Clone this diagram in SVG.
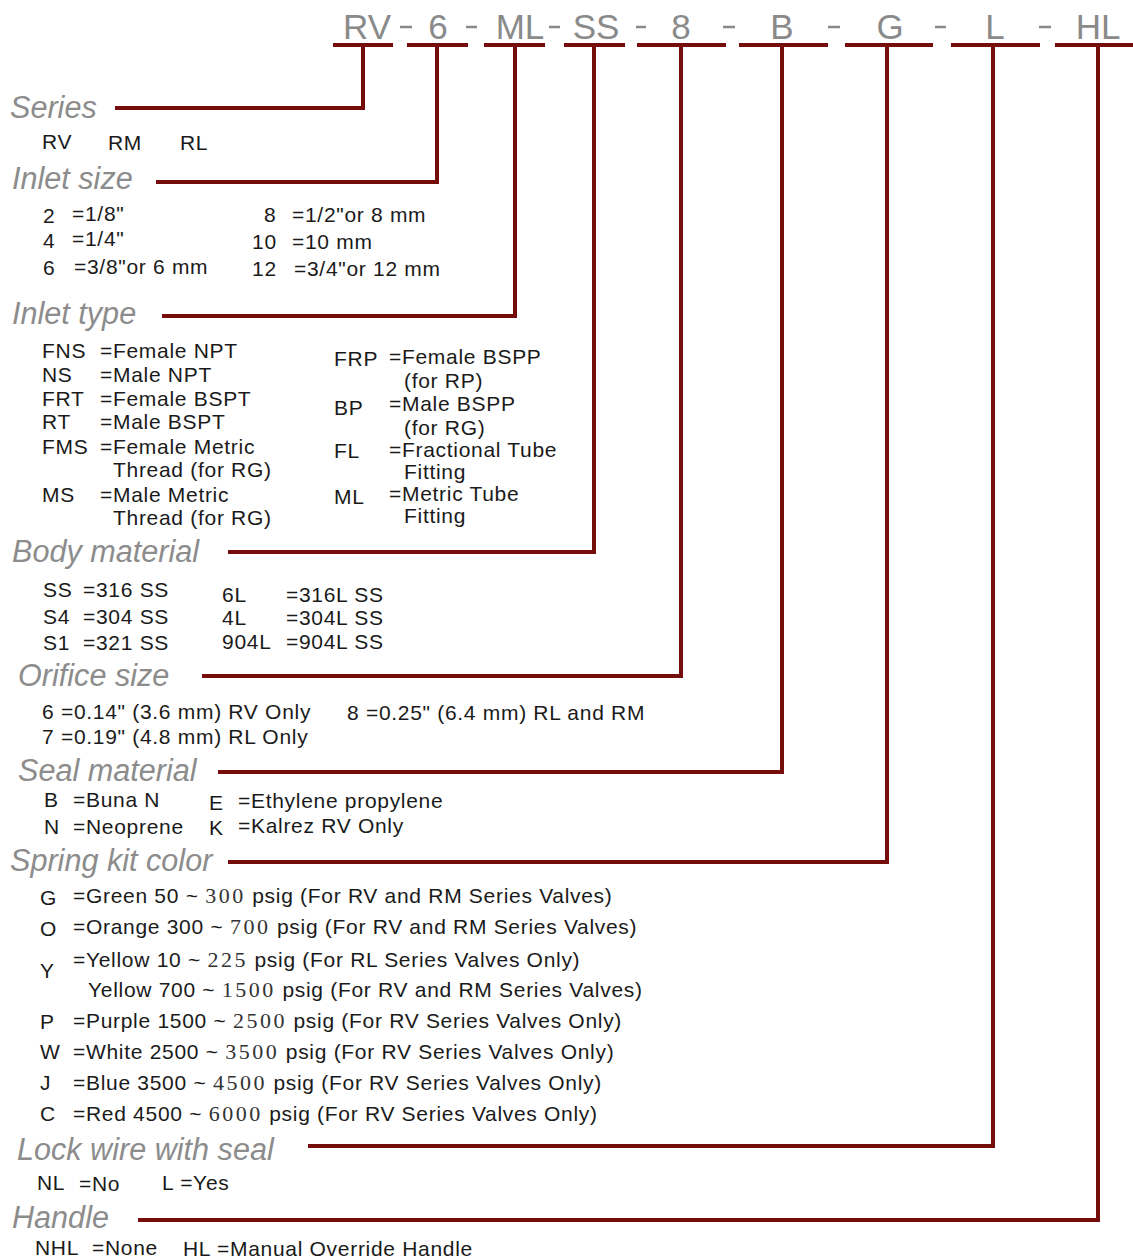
<svg xmlns="http://www.w3.org/2000/svg" width="1133" height="1258" viewBox="0 0 1133 1258">
<style>
.hd{font-family:"Liberation Sans",Arial,sans-serif;font-size:35px;fill:#8a8a8a;text-anchor:middle}
.dash{stroke:#8a8a8a;stroke-width:2.5}
.lbl{font-family:"Liberation Sans",Arial,sans-serif;font-size:30.6px;font-style:italic;fill:#8c8c8c}
.t{font-family:"Liberation Sans",Arial,sans-serif;font-size:21px;letter-spacing:0.7px;fill:#1a1a1a}
.s{font-family:"Liberation Serif","Times New Roman",serif;font-size:22px;letter-spacing:2.5px;fill:#333}
.ln{stroke:#760d0d;stroke-width:4;fill:none}
</style>
<rect width="1133" height="1258" fill="#ffffff"/>

<g id="header">
<text class="hd" x="367" y="39">RV</text>
<text class="hd" x="438" y="39">6</text>
<text class="hd" x="520" y="39">ML</text>
<text class="hd" x="596" y="39">SS</text>
<text class="hd" x="681" y="39">8</text>
<text class="hd" x="782" y="39">B</text>
<text class="hd" x="890" y="39">G</text>
<text class="hd" x="995" y="39">L</text>
<text class="hd" x="1098" y="39">HL</text>
<line class="dash" x1="400" y1="27" x2="412" y2="27"/>
<line class="dash" x1="466" y1="27" x2="477" y2="27"/>
<line class="dash" x1="549" y1="27" x2="560" y2="27"/>
<line class="dash" x1="636" y1="27" x2="646" y2="27"/>
<line class="dash" x1="723" y1="27" x2="735" y2="27"/>
<line class="dash" x1="828" y1="27" x2="840" y2="27"/>
<line class="dash" x1="935" y1="27" x2="946" y2="27"/>
<line class="dash" x1="1039" y1="27" x2="1051" y2="27"/>
</g>

<g id="connectors">
<line class="ln" x1="333" y1="45" x2="393" y2="45"/>
<line class="ln" x1="407" y1="45" x2="468" y2="45"/>
<line class="ln" x1="484" y1="45" x2="545" y2="45"/>
<line class="ln" x1="564" y1="45" x2="625" y2="45"/>
<line class="ln" x1="637" y1="45" x2="726" y2="45"/>
<line class="ln" x1="739" y1="45" x2="828" y2="45"/>
<line class="ln" x1="845" y1="45" x2="933" y2="45"/>
<line class="ln" x1="951" y1="45" x2="1040" y2="45"/>
<line class="ln" x1="1055" y1="45" x2="1133" y2="45"/>
<polyline class="ln" points="363,45 363,108 115,108"/>
<polyline class="ln" points="437,45 437,182 156,182"/>
<polyline class="ln" points="515,45 515,316 162,316"/>
<polyline class="ln" points="594,45 594,552 228,552"/>
<polyline class="ln" points="681,45 681,676 202,676"/>
<polyline class="ln" points="782,45 782,772 218,772"/>
<polyline class="ln" points="887,45 887,862 228,862"/>
<polyline class="ln" points="993,45 993,1146 308,1146"/>
<polyline class="ln" points="1098,45 1098,1220 138,1220"/>
</g>

<g id="series">
<text class="lbl" x="10" y="118">Series</text>
<text class="t" x="42" y="149">RV</text>
<text class="t" x="108" y="150">RM</text>
<text class="t" x="180" y="150">RL</text>
</g>

<g id="inlet-size">
<text class="lbl" x="12" y="189">Inlet size</text>
<text class="t" x="43" y="223">2</text><text class="t" x="72" y="221">=1/8"</text>
<text class="t" x="43" y="248">4</text><text class="t" x="72" y="246">=1/4"</text>
<text class="t" x="43" y="275">6</text><text class="t" x="74" y="274">=3/8"or 6 mm</text>
<text class="t" x="264" y="222">8</text><text class="t" x="292" y="222">=1/2"or 8 mm</text>
<text class="t" x="252" y="249">10</text><text class="t" x="292" y="249">=10 mm</text>
<text class="t" x="252" y="276">12</text><text class="t" x="294" y="276">=3/4"or 12 mm</text>
</g>

<g id="inlet-type">
<text class="lbl" x="12" y="324">Inlet type</text>
<text class="t" x="42" y="358">FNS</text><text class="t" x="100" y="358">=Female NPT</text>
<text class="t" x="42" y="382">NS</text><text class="t" x="100" y="382">=Male NPT</text>
<text class="t" x="42" y="406">FRT</text><text class="t" x="100" y="406">=Female BSPT</text>
<text class="t" x="42" y="429">RT</text><text class="t" x="100" y="429">=Male BSPT</text>
<text class="t" x="42" y="454">FMS</text><text class="t" x="100" y="454">=Female Metric</text>
<text class="t" x="113" y="477">Thread (for RG)</text>
<text class="t" x="42" y="502">MS</text><text class="t" x="100" y="502">=Male Metric</text>
<text class="t" x="113" y="525">Thread (for RG)</text>
<text class="t" x="334" y="366">FRP</text><text class="t" x="389" y="364">=Female BSPP</text>
<text class="t" x="404" y="388">(for RP)</text>
<text class="t" x="334" y="415">BP</text><text class="t" x="389" y="411">=Male BSPP</text>
<text class="t" x="404" y="435">(for RG)</text>
<text class="t" x="334" y="458">FL</text><text class="t" x="389" y="457">=Fractional Tube</text>
<text class="t" x="404" y="479">Fitting</text>
<text class="t" x="334" y="504">ML</text><text class="t" x="389" y="501">=Metric Tube</text>
<text class="t" x="404" y="523">Fitting</text>
</g>

<g id="body-material">
<text class="lbl" x="12" y="562">Body material</text>
<text class="t" x="43" y="597">SS</text><text class="t" x="83" y="597">=316 SS</text>
<text class="t" x="43" y="624">S4</text><text class="t" x="83" y="624">=304 SS</text>
<text class="t" x="43" y="650">S1</text><text class="t" x="83" y="650">=321 SS</text>
<text class="t" x="222" y="602">6L</text><text class="t" x="286" y="602">=316L SS</text>
<text class="t" x="222" y="625">4L</text><text class="t" x="286" y="625">=304L SS</text>
<text class="t" x="222" y="649">904L</text><text class="t" x="286" y="649">=904L SS</text>
</g>

<g id="orifice-size">
<text class="lbl" x="18" y="686">Orifice size</text>
<text class="t" x="42" y="719">6 =0.14" (3.6 mm) RV Only</text>
<text class="t" x="347" y="720">8 =0.25" (6.4 mm) RL and RM</text>
<text class="t" x="42" y="744">7 =0.19" (4.8 mm) RL Only</text>
</g>

<g id="seal-material">
<text class="lbl" x="18" y="781">Seal material</text>
<text class="t" x="44" y="807">B</text><text class="t" x="73" y="807">=Buna N</text>
<text class="t" x="209" y="810">E</text><text class="t" x="238" y="808">=Ethylene propylene</text>
<text class="t" x="44" y="834">N</text><text class="t" x="73" y="834">=Neoprene</text>
<text class="t" x="209" y="835">K</text><text class="t" x="238" y="833">=Kalrez RV Only</text>
</g>

<g id="spring-kit-color">
<text class="lbl" x="10" y="871">Spring kit color</text>
<text class="t" x="40" y="905">G</text><text class="t" x="73" y="903">=Green 50 ~ <tspan class="s">300</tspan> psig (For RV and RM Series Valves)</text>
<text class="t" x="40" y="936">O</text><text class="t" x="73" y="934">=Orange 300 ~ <tspan class="s">700</tspan> psig (For RV and RM Series Valves)</text>
<text class="t" x="40" y="978">Y</text><text class="t" x="73" y="967">=Yellow 10 ~ <tspan class="s">225</tspan> psig (For RL Series Valves Only)</text>
<text class="t" x="88" y="997">Yellow 700 ~ <tspan class="s">1500</tspan> psig (For RV and RM Series Valves)</text>
<text class="t" x="40" y="1029">P</text><text class="t" x="73" y="1028">=Purple 1500 ~ <tspan class="s">2500</tspan> psig (For RV Series Valves Only)</text>
<text class="t" x="40" y="1059">W</text><text class="t" x="73" y="1059">=White 2500 ~ <tspan class="s">3500</tspan> psig (For RV Series Valves Only)</text>
<text class="t" x="40" y="1090">J</text><text class="t" x="73" y="1090">=Blue 3500 ~ <tspan class="s">4500</tspan> psig (For RV Series Valves Only)</text>
<text class="t" x="40" y="1121">C</text><text class="t" x="73" y="1121">=Red 4500 ~ <tspan class="s">6000</tspan> psig (For RV Series Valves Only)</text>
</g>

<g id="lock-wire">
<text class="lbl" x="17" y="1160">Lock wire with seal</text>
<text class="t" x="37" y="1190">NL</text><text class="t" x="79" y="1191">=No</text>
<text class="t" x="162" y="1190">L =Yes</text>
</g>

<g id="handle">
<text class="lbl" x="12" y="1228">Handle</text>
<text class="t" x="35" y="1255">NHL</text><text class="t" x="92" y="1255">=None</text>
<text class="t" x="183" y="1256">HL =Manual Override Handle</text>
</g>
</svg>
